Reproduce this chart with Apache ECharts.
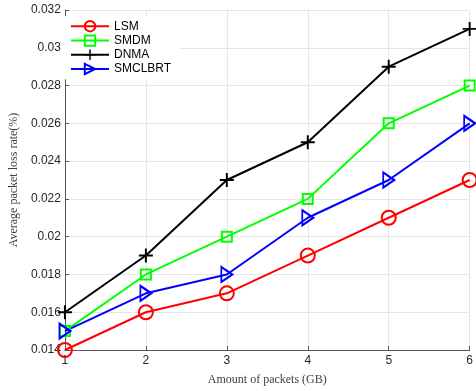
<!DOCTYPE html>
<html><head><meta charset="utf-8">
<script src="https://cdn.jsdelivr.net/npm/echarts@6/dist/echarts.min.js"></script>
<style>html,body{margin:0;padding:0;background:#fff}#c{width:476px;height:391px}</style>
</head><body><div id="c"></div>
<script>
const categories = [1, 2, 3, 4, 5, 6];
const lsm = [0.014, 0.016, 0.017, 0.019, 0.021, 0.023];
const smdm = [0.015, 0.018, 0.020, 0.022, 0.026, 0.028];
const dnma = [0.016, 0.019, 0.023, 0.025, 0.029, 0.031];
const smclbrt = [0.015, 0.017, 0.018, 0.021, 0.023, 0.026];
const seriesNames = ['LSM', 'SMDM', 'DNMA', 'SMCLBRT'];

const plusPath = 'path://M-1.4,-10 h2.8 v20 h-2.8 z M-10,-1.4 h20 v2.8 h-20 z';
const triPath = 'path://M0,0 L10,7 L0,14 Z';

function mk(name, data, color, symbol, size, fill, bw) {
  return {
    name, type: 'line', data: data.map((v, i) => [categories[i], v]),
    symbol, symbolSize: size, showAllSymbol: true,
    lineStyle: { color, width: 2 },
    itemStyle: { color: fill, borderColor: color, borderWidth: bw },
    emphasis: { disabled: true }, animation: false
  };
}
const chart = echarts.init(document.getElementById('c'));
chart.setOption({
  animation: false,
  grid: { left: 62, right: 5, top: 10, bottom: 39, containLabel: false },
  legend: {
    orient: 'vertical', left: 64, top: 16, itemGap: 2, itemWidth: 38, itemHeight: 13,
    backgroundColor: '#fff', padding: [4, 8, 4, 6],
    textStyle: { fontFamily: 'Liberation Sans', fontSize: 12, color: '#000' },
    data: seriesNames
  },
  xAxis: {
    type: 'value', min: 1, max: 6, interval: 1,
    name: 'Amount of packets (GB)', nameLocation: 'middle', nameGap: 24,
    nameTextStyle: { fontFamily: 'Liberation Serif', fontSize: 12, color: '#404040' },
    axisLine: { lineStyle: { color: '#555', width: 1 } },
    axisTick: { inside: true, length: 4, lineStyle: { color: '#555' } },
    axisLabel: { fontFamily: 'Liberation Sans', fontSize: 12, color: '#262626', margin: 5 },
    splitLine: { show: true, lineStyle: { color: '#e6e6e6', width: 1 } }
  },
  yAxis: {
    type: 'value', min: 0.014, max: 0.032, interval: 0.002,
    name: 'Average packet loss rate(%)', nameLocation: 'middle', nameGap: 44,
    nameTextStyle: { fontFamily: 'Liberation Serif', fontSize: 12, color: '#404040' },
    axisLine: { show: true, lineStyle: { color: '#555', width: 1 } },
    axisTick: { show: true, inside: true, length: 4, lineStyle: { color: '#555' } },
    axisLabel: { fontFamily: 'Liberation Sans', fontSize: 12, color: '#262626', margin: 4,
      formatter: v => String(+v.toFixed(3)) },
    splitLine: { show: true, lineStyle: { color: '#e6e6e6', width: 1 } }
  },
  series: [
    mk('LSM', lsm, '#ff0000', 'circle', 14, 'rgba(255,255,255,0)', 2),
    mk('SMDM', smdm, '#00ff00', 'rect', 10, 'rgba(255,255,255,0)', 2),
    mk('DNMA', dnma, '#000000', plusPath, 14, '#000000', 0),
    mk('SMCLBRT', smclbrt, '#0000ff', triPath, [11, 15], 'rgba(255,255,255,0)', 2)
  ]
});
</script></body></html>
